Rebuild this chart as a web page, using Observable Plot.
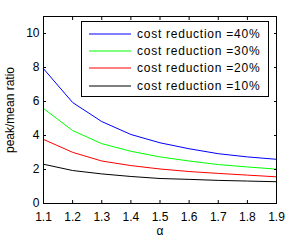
<!DOCTYPE html>
<html><head><meta charset="utf-8">
<script src="https://cdn.jsdelivr.net/npm/d3@7"></script>
<script src="https://cdn.jsdelivr.net/npm/@observablehq/plot@0.6"></script>
<style>
body{margin:0;background:#fff;}
#wrap{position:relative;width:291px;height:240px;font-family:"Liberation Sans",Arial,sans-serif;}
#legend{position:absolute;left:81px;top:21px;width:188px;height:76px;border:1px solid #000;background:#fff;box-sizing:border-box;}
.row{position:absolute;left:0;height:16px;display:flex;align-items:center;font-size:12px;letter-spacing:0.75px;color:#000;white-space:nowrap;}
.row svg{margin-left:7px;margin-right:6px;}
</style></head>
<body><div id="wrap"></div>
<script>
const alpha = [1.1, 1.2, 1.3, 1.4, 1.5, 1.6, 1.7, 1.8, 1.9];
const cost40 = [7.93, 5.94, 4.82, 4.06, 3.57, 3.22, 2.93, 2.74, 2.60];
const cost30 = [5.59, 4.29, 3.52, 3.07, 2.74, 2.50, 2.29, 2.15, 2.02];
const cost20 = [3.77, 3.01, 2.50, 2.23, 2.03, 1.88, 1.77, 1.67, 1.57];
const cost10 = [2.31, 1.94, 1.74, 1.59, 1.47, 1.42, 1.36, 1.32, 1.28];
const seriesNames = ["cost reduction =40%", "cost reduction =30%", "cost reduction =20%", "cost reduction =10%"];
const seriesColors = ["#0000ff", "#00ff00", "#ff0000", "#000000"];
const xTicks = [1.1, 1.2, 1.3, 1.4, 1.5, 1.6, 1.7, 1.8, 1.9];
const yTicks = [0, 2, 4, 6, 8, 10];

const allSeries = [cost40, cost30, cost20, cost10];
const data = allSeries.flatMap((vals, i) => vals.map((v, j) => ({x: alpha[j], y: v, s: seriesNames[i]})));

const font = "Liberation Sans, Arial, sans-serif";
const plot = Plot.plot({
  width: 291, height: 240,
  marginLeft: 43, marginRight: 15, marginTop: 16, marginBottom: 37,
  style: {fontFamily: font, fontSize: "12px", background: "#fff", color: "#000"},
  x: {domain: [1.1, 1.9]},
  y: {domain: [0, 11]},
  color: {domain: seriesNames, range: seriesColors},
  marks: [
    Plot.line(data, {x: "x", y: "y", z: "s", stroke: "s", strokeWidth: 1}),
    Plot.frame({stroke: "#000", strokeWidth: 1}),
    Plot.axisX({anchor: "bottom", ticks: xTicks, tickSize: -3, tickPadding: 12, tickFormat: d => d.toFixed(1), label: "α", labelAnchor: "center", labelOffset: 31, labelArrow: "none", fontSize: 12}),
    Plot.axisX({anchor: "top", ticks: xTicks, tickSize: -3, tickFormat: () => "", label: null}),
    Plot.axisY({anchor: "left", ticks: yTicks, tickSize: -3, tickPadding: 7, label: "peak/mean ratio", labelAnchor: "center", labelOffset: 38, labelArrow: "none", fontSize: 12}),
    Plot.axisY({anchor: "right", ticks: yTicks, tickSize: -3, tickFormat: () => "", label: null})
  ]
});
const wrap = document.getElementById("wrap");
wrap.appendChild(plot);

const legend = document.createElement("div");
legend.id = "legend";
const rowTops = [4, 21, 38, 56];
seriesNames.forEach((name, i) => {
  const row = document.createElement("div");
  row.className = "row";
  row.style.top = rowTops[i] + "px";
  row.innerHTML = `<svg width="42" height="4"><line x1="0" x2="42" y1="2" y2="2" stroke="${seriesColors[i]}" stroke-width="1"/></svg><span>${name}</span>`;
  legend.appendChild(row);
});
wrap.appendChild(legend);
</script>
</body></html>
